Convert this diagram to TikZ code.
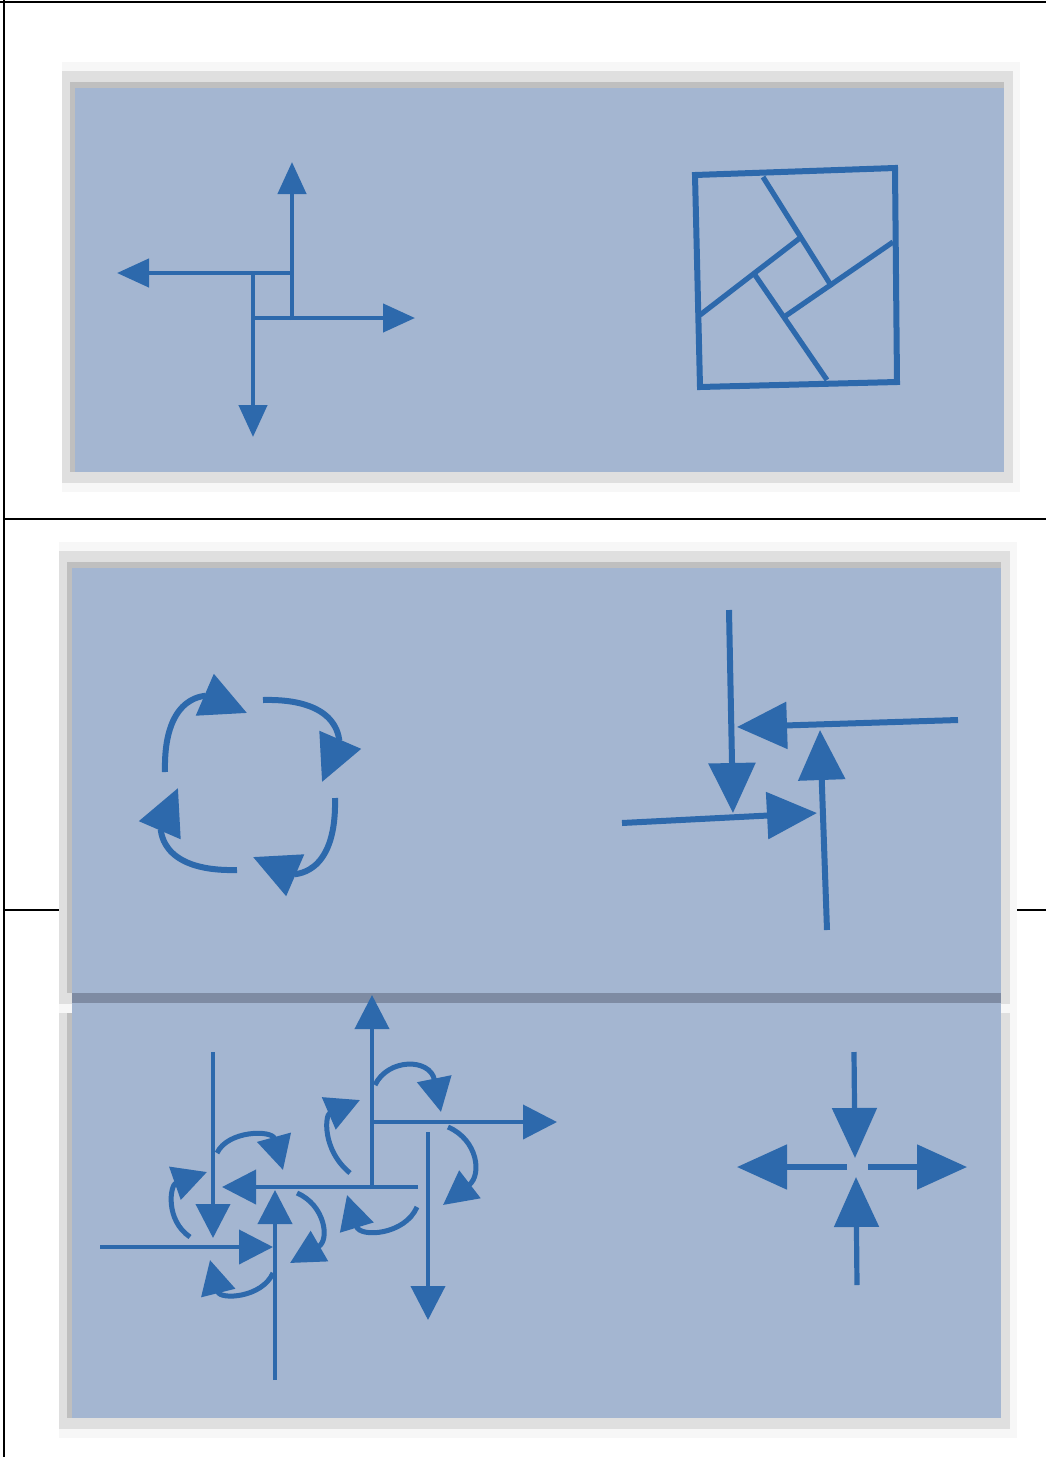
\documentclass[tikz,border=0pt]{standalone}
\usepackage{tikz}
\usetikzlibrary{arrows.meta}
\definecolor{bgblue}{RGB}{164,182,209}
\definecolor{ink}{RGB}{45,105,172}
\definecolor{bandgray}{RGB}{126,139,163}

\begin{document}
\begin{tikzpicture}[x=0.5pt, y=-0.5pt, line join=miter,
	arrowI/.style={ink, line width=2.2pt, >={Triangle[length=16pt, width=14pt]}, ->},
	arrowII/.style={ink, line width=3pt, >={Triangle[length=23pt, width=22pt]}, ->},
	arrowIII/.style={ink, line width=3pt, >={Triangle[length=25pt, width=23pt]}, ->},
	arrowIV/.style={ink, line width=2pt, >={Triangle[length=17pt, width=17pt]}, ->},
	curveIV/.style={ink, line width=2.5pt, >={Triangle[length=17pt, width=17pt]}, ->},
	arrowV/.style={ink, line width=2.6pt, >={Triangle[length=25pt, width=22pt]}, ->}]
		\useasboundingbox (0,0) rectangle (1046,1457);
		
		% 表格线
		\draw[line width=1.3pt] (0,2) -- (1046,2);
		\draw[line width=1pt] (4,0) -- (4,1457);
		\draw[line width=1.3pt] (4,519) -- (1046,519);
		\draw[line width=1pt] (4,910) -- (1046,910);
		
		% 照片底板 (阴影 + 蓝底)
		\foreach \xa/\ya/\xb/\yb in {75/88/1004/472, 72/993/1001/1418, 72/568/1001/993} {
			\fill[gray!6] ({\xa-13},{\ya-26}) rectangle ({\xb+16},{\yb+20});
			\fill[gray!25] ({\xa-13},{\ya-17}) rectangle ({\xb+9},{\yb+11});
			\fill[gray!50] ({\xa-5},{\ya-6}) rectangle (\xb,\yb);
			\fill[bgblue] (\xa,\ya) rectangle (\xb,\yb);
		}
		% 上下两张照片的接缝
		\fill[bgblue] (72,1003) rectangle (1001,1013);
		\fill[bandgray] (72,993) rectangle (1001,1003);
		
		% 图一: 风车形四箭头
		\coordinate (A0) at (292,320);
		\coordinate (A1) at (292,162);
		\coordinate (B0) at (293,273);
		\coordinate (B1) at (117,273);
		\coordinate (C0) at (253,271);
		\coordinate (C1) at (253,437);
		\coordinate (D0) at (252,318);
		\coordinate (D1) at (415,318);
		\draw[arrowI] (A0) -- (A1);
		\draw[arrowI] (B0) -- (B1);
		\draw[arrowI] (C0) -- (C1);
		\draw[arrowI] (D0) -- (D1);
		
		% 图二: 正方形拼图
		\coordinate (Q1) at (695,175);
		\coordinate (Q2) at (895,168);
		\coordinate (Q3) at (897,382);
		\coordinate (Q4) at (700,387);
		\draw[ink, line width=3pt] (Q1) -- (Q2) -- (Q3) -- (Q4) -- cycle;
		\draw[ink, line width=2.6pt] (763,177) -- (832,287);
		\draw[ink, line width=2.6pt] (893,242) -- (784,317);
		\draw[ink, line width=2.6pt] (827,380) -- (755,275);
		\draw[ink, line width=2.6pt] (700,315) -- (800,238);
		
		% 图三: 循环箭头
		\foreach \a in {0,90,180,270}
			\draw[arrowII, shift={(250,785)}, rotate=\a] (-85,-13) .. controls (-87,-95) and (-40,-88) .. (-3,-72);
		
		% 图四: 相向箭头
		\coordinate (E0) at (729,610);
		\coordinate (E1) at (733,813);
		\coordinate (F0) at (958,720);
		\coordinate (F1) at (737,727);
		\coordinate (G0) at (827,930);
		\coordinate (G1) at (820,730);
		\coordinate (H0) at (622,823);
		\coordinate (H1) at (817,813);
		\draw[arrowIII] (E0) -- (E1);
		\draw[arrowIII] (F0) -- (F1);
		\draw[arrowIII] (G0) -- (G1);
		\draw[arrowIII] (H0) -- (H1);
		
		% 图五: 两组旋转箭头 (右组)
		\draw[arrowIV] (372,1189) -- (372,995);
		\draw[arrowIV] (371,1122) -- (557,1122);
		\draw[arrowIV] (428,1132) -- (428,1320);
		\draw[arrowIV] (418,1187) -- (222,1187);
		\draw[curveIV] (375,1085) .. controls (388,1058) and (430,1058) .. (441,1112);
		\draw[curveIV] (448,1127) .. controls (478,1140) and (482,1175) .. (443,1205);
		\draw[curveIV] (417,1207) .. controls (405,1235) and (360,1238) .. (347,1195);
		\draw[curveIV] (350,1173) .. controls (322,1150) and (325,1115) .. (360,1100);
		% 左组
		\draw[arrowIV] (213,1052) -- (213,1238);
		\draw[arrowIV] (100,1247) -- (273,1247);
		\draw[arrowIV] (275,1380) -- (275,1190);
		\draw[curveIV] (217,1153) .. controls (228,1130) and (272,1130) .. (283,1170);
		\draw[curveIV] (297,1193) .. controls (325,1205) and (330,1240) .. (290,1263);
		\draw[curveIV] (273,1273) .. controls (262,1298) and (220,1300) .. (210,1260);
		\draw[curveIV] (190,1237) .. controls (165,1220) and (170,1185) .. (207,1172);
		
		% 图六: 中心汇聚与发散
		\coordinate (M0) at (854,1052);
		\coordinate (M1) at (855,1158);
		\coordinate (N0) at (857,1285);
		\coordinate (N1) at (856,1177);
		\coordinate (K0) at (847,1167);
		\coordinate (K1) at (737,1167);
		\coordinate (L0) at (868,1167);
		\coordinate (L1) at (967,1167);
		\draw[arrowV] (M0) -- (M1);
		\draw[arrowV] (N0) -- (N1);
		\draw[arrowV] (K0) -- (K1);
		\draw[arrowV] (L0) -- (L1);
	\end{tikzpicture}
\end{document}
